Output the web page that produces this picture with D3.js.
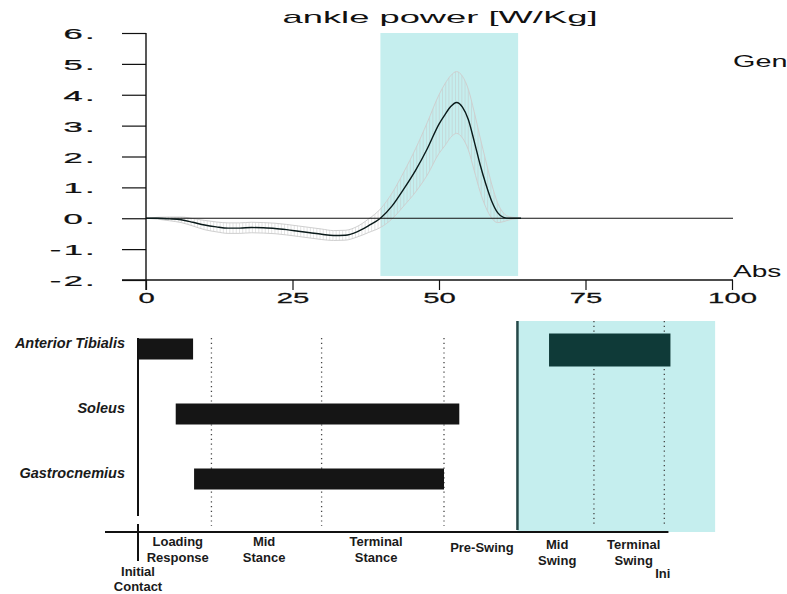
<!DOCTYPE html>
<html>
<head>
<meta charset="utf-8">
<script src="https://cdn.jsdelivr.net/npm/d3@7"></script>
<style>
  html, body { margin: 0; padding: 0; background: #fff; }
  svg { display: block; }
  text { font-family: "Liberation Sans", Arial, Helvetica, sans-serif; }
</style>
</head>
<body>
<svg id="chart" width="787" height="594"></svg>
<script>
// ---------- DATA ----------
const percent   = [0, 2, 4, 6, 8, 10, 12, 14, 16, 18, 20, 22, 24, 26, 28, 30, 32, 34, 36, 38,
                   40, 42, 44, 46, 48, 50, 51, 52, 53, 54, 55, 56, 57, 58, 59, 60, 61, 62, 63, 64, 70, 80, 90, 100];
const meanPower = [0, 0, -0.02, -0.05, -0.13, -0.22, -0.28, -0.32, -0.32, -0.30, -0.31, -0.33, -0.37, -0.42, -0.47, -0.52, -0.56, -0.55, -0.44, -0.24,
                   0.0, 0.4, 0.95, 1.55, 2.25, 3.05, 3.35, 3.62, 3.75, 3.6, 3.2, 2.5, 1.75, 1.1, 0.55, 0.18, 0.03, 0, 0, 0, 0, 0, 0, 0];
const sdPower   = [0, 0.03, 0.06, 0.09, 0.12, 0.15, 0.16, 0.17, 0.17, 0.17, 0.17, 0.17, 0.17, 0.17, 0.17, 0.17, 0.16, 0.16, 0.17, 0.22,
                   0.3, 0.42, 0.55, 0.7, 0.85, 0.95, 1.0, 1.0, 1.0, 1.0, 0.98, 0.95, 0.88, 0.75, 0.55, 0.32, 0.14, 0.05, 0.02, 0, 0, 0, 0, 0];
const yTicks = [-2, -1, 0, 1, 2, 3, 4, 5, 6];
const xTicks = [0, 25, 50, 75, 100];
const swingShadeTop = [40, 63.5];          // % gait cycle shaded in upper plot
const titleText = "ankle power [W/Kg]";

const muscles     = ["Anterior Tibialis", "Soleus", "Gastrocnemius"];
const burstMuscle = ["Anterior Tibialis", "Anterior Tibialis", "Soleus", "Gastrocnemius"];
const burstStart  = [0, 67, 6, 9];
const burstEnd    = [9, 87, 52.5, 50];
const burstPhase  = ["stance", "swing", "stance", "stance"];
const phaseDividers = [12, 30, 50, 74.5, 86];
const swingStart = 62;
const swingShadeBottom = [62, 94.3];
const phaseNames   = [["Loading", "Response"], ["Mid", "Stance"], ["Terminal", "Stance"], ["Pre-Swing"], ["Mid", "Swing"], ["Terminal", "Swing"]];
const phaseCenters = [6.5, 20.6, 38.9, 56.2, 68.5, 81.0];

// ---------- SETUP ----------
const svg = d3.select("#chart");
const cyan = "#c5eeee";

// ===== Upper plot =====
const x = d3.scaleLinear().domain([0, 100]).range([146, 732]);
const y = d3.scaleLinear().domain([-2, 6]).range([280, 33]);
const gTop = svg.append("g");

// shaded swing region
gTop.append("rect")
  .attr("x", x(swingShadeTop[0]))
  .attr("y", y(6))
  .attr("width", x(swingShadeTop[1]) - x(swingShadeTop[0]))
  .attr("height", y(-2) - y(6) - 4)
  .attr("fill", cyan);

// SD band (hatched)
const pts = percent.map((p, i) => ({p, m: meanPower[i], s: sdPower[i]}));
const area = d3.area().x(d => x(d.p)).y0(d => y(d.m - d.s)).y1(d => y(d.m + d.s)).curve(d3.curveMonotoneX);
svg.append("defs").append("clipPath").attr("id", "bandClip")
  .append("path").attr("d", area(pts));
const hatch = gTop.append("g").attr("clip-path", "url(#bandClip)");
hatch.selectAll("line").data(d3.range(0, 66, 0.55)).join("line")
  .attr("x1", d => x(d)).attr("x2", d => x(d))
  .attr("y1", y(6)).attr("y2", y(-2))
  .attr("stroke", "#c4c4c4").attr("stroke-width", 0.8).attr("opacity", 0.6);
const upper = d3.line().x(d => x(d.p)).y(d => y(d.m + d.s)).curve(d3.curveMonotoneX);
const lower = d3.line().x(d => x(d.p)).y(d => y(d.m - d.s)).curve(d3.curveMonotoneX);
const bandPts = pts.filter(d => d.p <= 64);
[upper, lower].forEach(gen => gTop.append("path").attr("d", gen(bandPts))
  .attr("fill", "none").attr("stroke", "#cfcfcf").attr("stroke-width", 1));

// zero line
gTop.append("line").attr("x1", x(0)).attr("x2", x(100) + 1).attr("y1", y(0)).attr("y2", y(0))
  .attr("stroke", "#111").attr("stroke-width", 1);

// mean curve
const meanLine = d3.line().x(d => x(d.p)).y(d => y(d.m)).curve(d3.curveMonotoneX);
gTop.append("path").attr("d", meanLine(pts.filter(d => d.p <= 64)))
  .attr("fill", "none").attr("stroke", "#0a1a1a").attr("stroke-width", 1.4);

// y axis
const yAxis = d3.axisLeft(y).tickValues(yTicks).tickSize(24).tickFormat(d => d + ".");
const gy = gTop.append("g").attr("transform", `translate(${x(0)},0)`).call(yAxis);
gy.select(".domain").remove();
gy.selectAll(".tick line").attr("stroke", "#111").attr("stroke-width", 1.2);
gy.selectAll(".tick text")
  .attr("x", null).attr("dy", null)
  .attr("text-anchor", "end")
  .attr("transform", "translate(-49,5.5) scale(2.3,1)")
  .attr("font-size", 15).attr("letter-spacing", 1).attr("fill", "#111")
  .attr("stroke", "#111").attr("stroke-width", 0.25);
gTop.append("line").attr("x1", x(0)).attr("x2", x(0)).attr("y1", y(6)).attr("y2", y(-2) + 10)
  .attr("stroke", "#111").attr("stroke-width", 1.4);

// x axis
const xAxis = d3.axisBottom(x).tickValues(xTicks).tickSize(10).tickFormat(d3.format("d"));
const gx = gTop.append("g").attr("transform", `translate(0,${y(-2)})`).call(xAxis);
gx.select(".domain").remove();
gx.selectAll(".tick line").attr("stroke", "#111").attr("stroke-width", 1.2);
gx.selectAll(".tick text")
  .attr("y", null).attr("dy", null)
  .attr("transform", "translate(0,23) scale(1.95,1)")
  .attr("font-size", 15).attr("fill", "#111")
  .attr("stroke", "#111").attr("stroke-width", 0.25);
gTop.append("line").attr("x1", x(0) - 24).attr("x2", x(100) + 1).attr("y1", y(-2)).attr("y2", y(-2))
  .attr("stroke", "#111").attr("stroke-width", 1.4);

// title and side labels
gTop.append("text").attr("x", 440).attr("y", 23).attr("text-anchor", "middle")
  .attr("font-size", 17).attr("fill", "#111")
  .attr("textLength", 315).attr("lengthAdjust", "spacingAndGlyphs").text(titleText);
gTop.append("text").attr("transform", `translate(${x(100) + 1},67) scale(1.8,1)`)
  .attr("font-size", 16).attr("fill", "#111").text("Gen");
gTop.append("text").attr("transform", `translate(${x(100) + 1},277) scale(1.75,1)`)
  .attr("font-size", 16).attr("fill", "#111").text("Abs");

// ===== Lower plot (muscle activity) =====
const bx = d3.scaleLinear().domain([0, 100]).range([138, 750]);
const by = d3.scalePoint().domain(muscles).range([349, 479]);
const gBot = svg.append("g");
const rowTop = 321, axisY = 532;

// swing shading
gBot.append("rect")
  .attr("x", bx(swingShadeBottom[0])).attr("y", rowTop)
  .attr("width", bx(swingShadeBottom[1]) - bx(swingShadeBottom[0]))
  .attr("height", axisY - rowTop)
  .attr("fill", cyan);

// dotted phase dividers
gBot.selectAll("line.div").data(phaseDividers).join("line").attr("class", "div")
  .attr("x1", d => bx(d)).attr("x2", d => bx(d))
  .attr("y1", d => d > swingStart ? rowTop : 338)
  .attr("y2", 526)
  .attr("stroke", "#444").attr("stroke-width", 1.3).attr("stroke-dasharray", "1.2,3.6");

// swing start solid line
gBot.append("line").attr("x1", bx(swingStart)).attr("x2", bx(swingStart))
  .attr("y1", rowTop).attr("y2", axisY - 2)
  .attr("stroke", "#254848").attr("stroke-width", 2.5);

// initial contact line
gBot.append("line").attr("x1", bx(0)).attr("x2", bx(0)).attr("y1", 338).attr("y2", 516)
  .attr("stroke", "#111").attr("stroke-width", 2);
gBot.append("line").attr("x1", bx(0)).attr("x2", bx(0)).attr("y1", 524).attr("y2", 561)
  .attr("stroke", "#111").attr("stroke-width", 2);

// baseline
gBot.append("line").attr("x1", 105).attr("x2", bx(87) - 2).attr("y1", axisY).attr("y2", axisY)
  .attr("stroke", "#111").attr("stroke-width", 2);

// bursts
const burstColor = d3.scaleOrdinal().domain(["stance", "swing"]).range(["#151515", "#0f3a38"]);
const burstH = d3.scaleOrdinal().domain(["stance", "swing"]).range([21, 33]);
gBot.selectAll("rect.burst").data(burstMuscle.map((m, i) => ({m, s: burstStart[i], e: burstEnd[i], ph: burstPhase[i]})))
  .join("rect").attr("class", "burst")
  .attr("x", d => bx(d.s) + 1)
  .attr("y", d => by(d.m) - burstH(d.ph) / 2 + (d.ph === "swing" ? 1 : 0))
  .attr("width", d => bx(d.e) - bx(d.s) - 1)
  .attr("height", d => burstH(d.ph))
  .attr("fill", d => burstColor(d.ph));

// muscle labels
gBot.selectAll("text.muscle").data(muscles).join("text").attr("class", "muscle")
  .attr("x", 125).attr("y", d => by(d) - 1)
  .attr("text-anchor", "end")
  .attr("font-size", 14.5).attr("font-weight", "bold").attr("font-style", "italic")
  .attr("fill", "#1a1a1a").text(d => d);

// phase labels
const phaseG = gBot.selectAll("text.phase").data(phaseNames.map((n, i) => ({n, c: phaseCenters[i], i})))
  .join("text").attr("class", "phase")
  .attr("text-anchor", "middle")
  .attr("font-size", 13).attr("font-weight", "bold").attr("fill", "#1a1a1a");
phaseG.each(function(d) {
  const t = d3.select(this);
  const base = d.n.length === 1 ? 552 : (d.c > swingStart ? 549 : 546);
  d.n.forEach((line, k) => {
    t.append("tspan").attr("x", bx(d.c)).attr("y", base + k * 15.5).text(line);
  });
});
const ic = gBot.append("text").attr("text-anchor", "middle")
  .attr("font-size", 13).attr("font-weight", "bold").attr("fill", "#1a1a1a");
ic.append("tspan").attr("x", bx(0)).attr("y", 576).text("Initial");
ic.append("tspan").attr("x", bx(0)).attr("y", 591).text("Contact");
gBot.append("text").attr("x", bx(84.5)).attr("y", 578)
  .attr("font-size", 13).attr("font-weight", "bold").attr("fill", "#1a1a1a").text("Ini");
</script>
</body>
</html>
